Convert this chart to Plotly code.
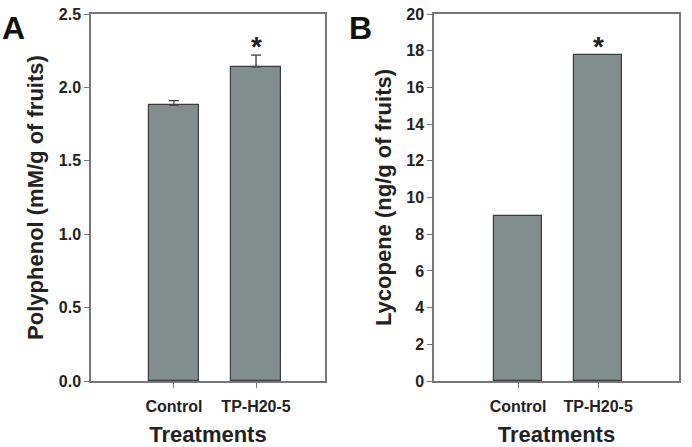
import plotly.graph_objects as go

categories = ["Control", "TP-H20-5"]
polyphenol = [1.88, 2.14]
polyphenol_err = [0.03, 0.08]
lycopene = [9.0, 17.75]
lycopene_err = [0.0, 0.0]
poly_ticks = [0.0, 0.5, 1.0, 1.5, 2.0, 2.5]
poly_ticktext = ["0.0", "0.5", "1.0", "1.5", "2.0", "2.5"]
lyco_ticks = [0, 2, 4, 6, 8, 10, 12, 14, 16, 18, 20]
significance = ["", "*"]

W, H = 692, 447
FONT = "Liberation Sans, Arial, sans-serif"
BAR = "#828e8d"
EDGE = "#3c3c3c"
AX = "#777777"
TXT = "#222222"

def px_x(p):
    return p / W

def px_y(p):
    return 1 - p / H

fig = go.Figure()
fig.add_trace(go.Bar(x=[0, 1], y=polyphenol, width=0.6, marker=dict(color=BAR, line=dict(color=EDGE, width=1.2)),
                     error_y=dict(type="data", array=polyphenol_err, arrayminus=[0, 0], symmetric=False,
                                  color=EDGE, thickness=1.3, width=5),
                     xaxis="x", yaxis="y", showlegend=False))
fig.add_trace(go.Bar(x=[0, 1], y=lycopene, width=0.6, marker=dict(color=BAR, line=dict(color=EDGE, width=1.2)),
                     xaxis="x2", yaxis="y2", showlegend=False))

common_x = dict(showline=True, mirror=True, linecolor=AX, linewidth=1.5, ticks="outside", ticklen=5,
                tickcolor=AX, tickwidth=1.2, showgrid=False, zeroline=False, tickvals=[0, 1], ticktext=categories,
                tickfont=dict(family=FONT, size=16, color=TXT, weight="bold"), ticklabelstandoff=5,
                automargin=False,
                title=dict(text="Treatments", font=dict(family=FONT, size=22, color=TXT, weight="bold"), standoff=15))
common_y = dict(showline=True, mirror=True, linecolor=AX, linewidth=1.5, ticks="outside", ticklen=5,
                tickcolor=AX, tickwidth=1.2, showgrid=False, zeroline=False, automargin=False,
                tickfont=dict(family=FONT, size=16, color=TXT, weight="bold"))

ydom = [px_y(381), px_y(14)]
fig.update_layout(
    width=W, height=H, margin=dict(l=0, r=0, t=0, b=0), plot_bgcolor="white", paper_bgcolor="white",
    bargap=0,
    xaxis=dict(common_x, domain=[px_x(91), px_x(325)], range=[-1.01, 1.84], anchor="y"),
    yaxis=dict(common_y, domain=ydom, range=[0, 2.5], tickvals=poly_ticks, ticktext=poly_ticktext, anchor="x",
               title=dict(text="Polyphenol (mM/g of fruits)", font=dict(family=FONT, size=22, color=TXT, weight="bold"), standoff=9)),
    xaxis2=dict(common_x, domain=[px_x(434), px_x(679)], range=[-1.05, 2.01], anchor="y2"),
    yaxis2=dict(common_y, domain=ydom, range=[0, 20], tickvals=lyco_ticks, anchor="x2",
                title=dict(text="Lycopene (ng/g of fruits)", font=dict(family=FONT, size=22, color=TXT, weight="bold"), standoff=9)),
)

ann = []
for i, s in enumerate(significance):
    if s:
        ann.append(dict(x=i, y=polyphenol[i] + polyphenol_err[i], xref="x", yref="y", text=s, showarrow=False,
                        yanchor="bottom", yshift=-9, font=dict(family=FONT, size=28, color=TXT, weight="bold")))
        ann.append(dict(x=i, y=lycopene[i] + lycopene_err[i], xref="x2", yref="y2", text=s, showarrow=False,
                        yanchor="bottom", yshift=-9, font=dict(family=FONT, size=28, color=TXT, weight="bold")))
ann.append(dict(x=px_x(0), y=px_y(8), xref="paper", yref="paper", text="A", showarrow=False, xanchor="left",
                yanchor="top", font=dict(family=FONT, size=32, color="#111", weight="bold")))
ann.append(dict(x=px_x(347), y=px_y(8), xref="paper", yref="paper", text="B", showarrow=False, xanchor="left",
                yanchor="top", font=dict(family=FONT, size=32, color="#111", weight="bold")))
fig.update_layout(annotations=ann)

fig.write_html("out.html")
